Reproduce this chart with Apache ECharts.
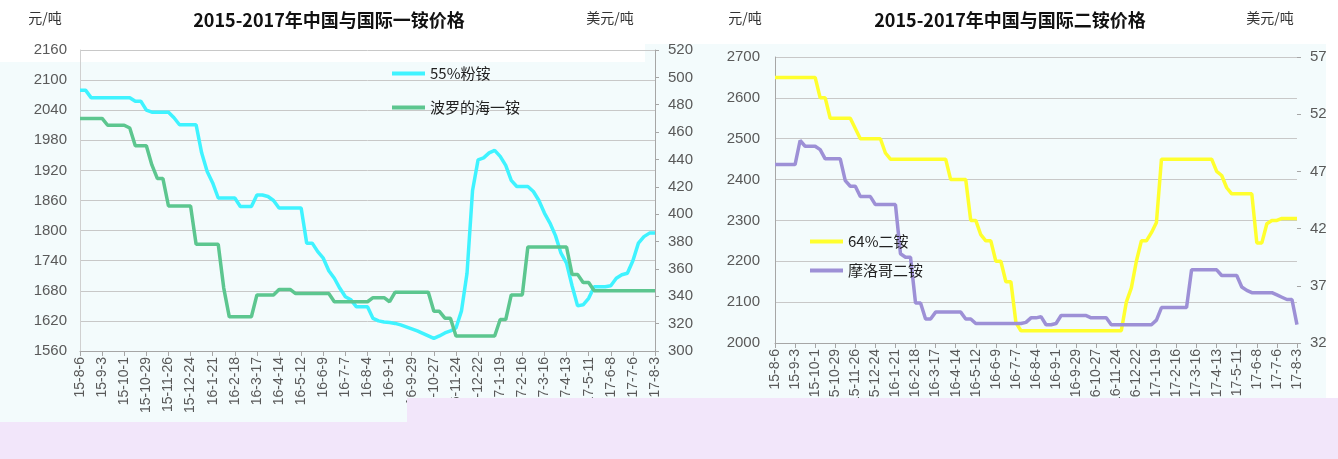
<!DOCTYPE html>
<html><head><meta charset="utf-8">
<script src="https://cdn.jsdelivr.net/npm/echarts@6/dist/echarts.min.js"></script>
<style>html,body{margin:0;padding:0;background:#fff}#c{width:1338px;height:459px}</style>
</head><body><div id="c"></div><script>
// weekly dates (x-axis categories / tick labels)
const weeks = [
 '15-8-6','15-8-13','15-8-20','15-8-27','15-9-3','15-9-10','15-9-17','15-9-24','15-10-1','15-10-8','15-10-15','15-10-22','15-10-29','15-11-5','15-11-12','15-11-19','15-11-26','15-12-3','15-12-10','15-12-17','15-12-24','15-12-31',
 '16-1-7','16-1-14','16-1-21','16-1-28','16-2-4','16-2-11','16-2-18','16-2-25','16-3-3','16-3-10','16-3-17','16-3-24','16-3-31','16-4-7','16-4-14','16-4-21','16-4-28','16-5-5','16-5-12','16-5-19','16-5-26','16-6-2','16-6-9','16-6-16','16-6-23','16-6-30','16-7-7','16-7-14','16-7-21','16-7-28','16-8-4','16-8-11','16-8-18','16-8-25','16-9-1','16-9-8','16-9-15','16-9-22','16-9-29','16-10-6','16-10-13','16-10-20','16-10-27','16-11-3','16-11-10','16-11-17','16-11-24','16-12-1','16-12-8','16-12-15','16-12-22','16-12-29',
 '17-1-5','17-1-12','17-1-19','17-1-26','17-2-2','17-2-9','17-2-16','17-2-23','17-3-2','17-3-9','17-3-16','17-3-23','17-3-30','17-4-6','17-4-13','17-4-20','17-4-27','17-5-4','17-5-11','17-5-18','17-5-25','17-6-1','17-6-8','17-6-15','17-6-22','17-6-29','17-7-6','17-7-13','17-7-20','17-7-27','17-8-3'
];
// 55%粉铵 (元/吨)
const cnMap = [
 2080,2080,2065,2065,2065,2065,2065,2065,2065,2065,2058,2058,2040,2036,2036,2036,2036,2025,2011,2011,
 2011,2011,1955,1918,1895,1865,1865,1865,1865,1848,1848,1848,1871,1871,1868,1860,1845,1845,1845,1845,
 1845,1775,1775,1758,1745,1720,1705,1685,1668,1662,1648,1648,1648,1625,1620,1618,1617,1615,1612,1608,
 1604,1600,1595,1590,1585,1590,1596,1600,1606,1640,1715,1880,1941,1945,1955,1960,1948,1930,1900,1888,
 1888,1888,1878,1860,1835,1815,1790,1755,1735,1690,1650,1652,1665,1688,1688,1688,1690,1705,1712,1715,
 1740,1775,1788,1795,1795
];
// 波罗的海一铵 (美元/吨)
const balticMap = [
 470,470,470,470,470,465,465,465,465,463,450,450,450,436,426,426,406,406,406,406,
 406,378,378,378,378,378,346,325,325,325,325,325,341,341,341,341,345,345,345,342,
 342,342,342,342,342,342,336,336,336,336,336,336,336,339,339,339,336,343,343,343,
 343,343,343,343,329,329,324,324,311,311,311,311,311,311,311,311,323,323,341,341,
 341,376,376,376,376,376,376,376,376,356,356,350,350,344,344,344,344,344,344,344,
 344,344,344,344,344
];
// 64%二铵 (元/吨)
const cnDap = [
 2650,2650,2650,2650,2650,2650,2650,2650,2650,2600,2600,2550,2550,2550,2550,2550,2525,2500,2500,2500,
 2500,2500,2465,2450,2450,2450,2450,2450,2450,2450,2450,2450,2450,2450,2450,2400,2400,2400,2400,2300,
 2300,2265,2250,2250,2200,2200,2150,2150,2050,2030,2030,2030,2030,2030,2030,2030,2030,2030,2030,2030,
 2030,2030,2030,2030,2030,2030,2030,2030,2030,2030,2100,2135,2200,2250,2250,2270,2295,2450,2450,2450,
 2450,2450,2450,2450,2450,2450,2450,2450,2420,2410,2380,2365,2365,2365,2365,2365,2245,2245,2292,2300,
 2300,2305,2305,2305,2305
];
// 摩洛哥二铵 (美元/吨)
const moroccoDap = [
 476,476,476,476,476,497,492,492,492,489,481,481,481,481,462,457,457,448,448,448,
 441,441,441,441,441,398,395,395,355,355,341,341,347,347,347,347,347,347,341,341,
 337,337,337,337,337,337,337,337,337,337,338,342,342,343,336,336,337,344,344,344,
 344,344,344,342,342,342,342,336,336,336,336,336,336,336,336,336,340,351,351,351,
 351,351,351,384,384,384,384,384,384,379,379,379,379,369,366,364,364,364,364,364,
 362,360,358,358,336
];
const leftTicks1 = {min:1560, max:2160, interval:60};
const rightTicks1 = {min:300, max:520, interval:20};
const leftTicks2 = {min:2000, max:2700, interval:100};
const rightTicks2 = {min:320, max:570, interval:50};

const plain = v => String(v);
const lblFont = {color:'#595959', fontSize:15, fontFamily:'Liberation Sans, Arial, sans-serif', formatter:plain};
const xLbl = {interval:3, rotate:90, color:'#595959', fontSize:14, fontFamily:'Liberation Sans, Arial, sans-serif', margin:6};
const chart = echarts.init(document.getElementById('c'), null, {renderer:'canvas'});
const gridLine = {show:true, lineStyle:{color:'#c8c8c8', width:1}};

chart.setOption({
  animation:false,
  backgroundColor:'#ffffff',
  grid:[
    {left:80, right:1338-655, top:50, bottom:459-351, containLabel:false},
    {left:775, right:1338-1297, top:57, bottom:459-343, containLabel:false}
  ],
  xAxis:[
    {type:'category', gridIndex:0, data:weeks, boundaryGap:false,
     axisLine:{lineStyle:{color:'#a6a6a6'}}, axisTick:{interval:3, length:5, lineStyle:{color:'#a6a6a6'}},
     axisLabel:xLbl, splitLine:{show:false}},
    {type:'category', gridIndex:1, data:weeks, boundaryGap:false,
     axisLine:{lineStyle:{color:'#a6a6a6'}}, axisTick:{interval:3, length:5, lineStyle:{color:'#a6a6a6'}},
     axisLabel:xLbl, splitLine:{show:false}}
  ],
  yAxis:[
    Object.assign({type:'value', gridIndex:0, position:'left', splitLine:gridLine,
      axisLine:{show:true, lineStyle:{color:'#d0d0d0'}}, axisTick:{show:false},
      axisLabel:Object.assign({margin:13}, lblFont)}, leftTicks1),
    Object.assign({type:'value', gridIndex:0, position:'right', splitLine:{show:false},
      axisLine:{show:true, lineStyle:{color:'#a6a6a6'}}, axisTick:{show:true, length:4, lineStyle:{color:'#a6a6a6'}},
      axisLabel:Object.assign({margin:13}, lblFont)}, rightTicks1),
    Object.assign({type:'value', gridIndex:1, position:'left', splitLine:gridLine,
      axisLine:{show:true, lineStyle:{color:'#a6a6a6'}}, axisTick:{show:false},
      axisLabel:Object.assign({margin:15}, lblFont)}, leftTicks2),
    Object.assign({type:'value', gridIndex:1, position:'right', splitLine:{show:false},
      axisLine:{show:false}, axisTick:{show:true, length:4, lineStyle:{color:'#a6a6a6'}},
      axisLabel:Object.assign({margin:13}, lblFont)}, rightTicks2)
  ],
  legend:[
    {orient:'vertical', left:387, top:61, itemWidth:33, itemHeight:4, itemGap:19, icon:'rect',
     data:['55%粉铵','波罗的海一铵'],
     textStyle:{color:'#222', fontSize:15, fontFamily:'Noto Sans CJK SC, sans-serif'}},
    {orient:'vertical', left:805, top:229, itemWidth:33, itemHeight:4, itemGap:14, icon:'rect',
     data:['64%二铵','摩洛哥二铵'],
     textStyle:{color:'#222', fontSize:15, fontFamily:'Noto Sans CJK SC, sans-serif'}}
  ],
  series:[
    {name:'55%粉铵', type:'line', xAxisIndex:0, yAxisIndex:0, data:cnMap, showSymbol:false, symbol:'none',
     lineStyle:{color:'#3ff3ff', width:3.5}, itemStyle:{color:'#3ff3ff'}},
    {name:'波罗的海一铵', type:'line', xAxisIndex:0, yAxisIndex:1, data:balticMap, showSymbol:false, symbol:'none',
     lineStyle:{color:'#5cc68f', width:3.5}, itemStyle:{color:'#5cc68f'}},
    {name:'64%二铵', type:'line', xAxisIndex:1, yAxisIndex:2, data:cnDap, showSymbol:false, symbol:'none',
     lineStyle:{color:'#ffff2e', width:3.5}, itemStyle:{color:'#ffff2e'}},
    {name:'摩洛哥二铵', type:'line', xAxisIndex:1, yAxisIndex:3, data:moroccoDap, showSymbol:false, symbol:'none',
     lineStyle:{color:'#9d90d6', width:3.5}, itemStyle:{color:'#9d90d6'}}
  ],
  graphic:[
    {type:'rect', z:-10, silent:true, shape:{x:0, y:62, width:645, height:362}, style:{fill:'#f3fbfc'}},
    {type:'rect', z:-10, silent:true, shape:{x:645, y:44, width:693, height:358}, style:{fill:'#f3fbfc'}},
    {type:'text', x:329, y:20, style:{text:'2015-2017年中国与国际一铵价格', font:'bold 18px "Noto Sans CJK SC", sans-serif', fill:'#111', align:'center', verticalAlign:'middle'}},
    {type:'text', x:1010, y:20, style:{text:'2015-2017年中国与国际二铵价格', font:'bold 18px "Noto Sans CJK SC", sans-serif', fill:'#111', align:'center', verticalAlign:'middle'}},
    {type:'text', x:45, y:18, style:{text:'元/吨', font:'14px "Noto Sans CJK SC", sans-serif', fill:'#333', align:'center', verticalAlign:'middle'}},
    {type:'text', x:610, y:18, style:{text:'美元/吨', font:'14px "Noto Sans CJK SC", sans-serif', fill:'#333', align:'center', verticalAlign:'middle'}},
    {type:'text', x:745, y:18, style:{text:'元/吨', font:'14px "Noto Sans CJK SC", sans-serif', fill:'#333', align:'center', verticalAlign:'middle'}},
    {type:'text', x:1270, y:18, style:{text:'美元/吨', font:'14px "Noto Sans CJK SC", sans-serif', fill:'#333', align:'center', verticalAlign:'middle'}},
    {type:'rect', z:100, silent:true, shape:{x:0, y:422, width:407, height:37}, style:{fill:'#f2e6fa'}},
    {type:'rect', z:100, silent:true, shape:{x:407, y:398, width:931, height:61}, style:{fill:'#f2e6fa'}},
    {type:'rect', z:100, silent:true, shape:{x:1326, y:40, width:12, height:358}, style:{fill:'#ffffff'}}
  ]
});
</script></body></html>
